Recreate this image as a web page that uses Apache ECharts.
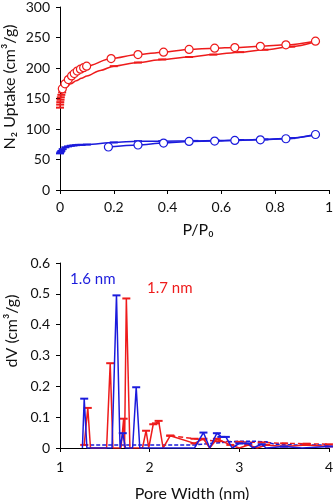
<!DOCTYPE html>
<html><head><meta charset="utf-8">
<script src="https://cdn.jsdelivr.net/npm/echarts@6/dist/echarts.min.js"></script>
<style>html,body{margin:0;padding:0;background:#fff}#c{width:336px;height:500px}</style>
</head><body><div id="c"></div>
<script>
// ---- Top chart: N2 isotherms ----
const xTicksTop = [0, 0.2, 0.4, 0.6, 0.8, 1];
const yTicksTop = [0, 50, 100, 150, 200, 250, 300];
const redAdsP = [0, 0.0005, 0.001, 0.002, 0.003, 0.005, 0.008, 0.012, 0.02, 0.04, 0.06, 0.08, 0.1, 0.15, 0.2, 0.29, 0.38, 0.48, 0.57, 0.67, 0.76, 0.86, 0.95];
const redAdsV = [135, 140, 144, 148, 152, 156, 160, 163, 167, 174, 179, 183, 187, 196, 203, 209, 214, 218, 222, 226, 230, 235, 243];
const redDesP = [0.0086, 0.0185, 0.031, 0.043, 0.053, 0.064, 0.076, 0.088, 0.099, 0.19, 0.29, 0.385, 0.48, 0.575, 0.65, 0.745, 0.84, 0.95];
const redDesV = [166, 174, 181, 187, 191, 195, 198, 200.5, 203, 215.5, 222, 226, 230.5, 232.5, 233.5, 235.5, 238, 244];
const blueAdsP = [0, 0.002, 0.005, 0.01, 0.02, 0.03, 0.04, 0.05, 0.06, 0.07, 0.08, 0.1, 0.2, 0.29, 0.38, 0.5, 0.58, 0.67, 0.76, 0.86, 0.95];
const blueAdsV = [60, 62, 64, 67, 70, 71.5, 72.5, 73, 73.5, 74, 74, 74.5, 78, 80, 80, 80.5, 81, 82, 83, 85, 90];
const blueDesP = [0.18, 0.29, 0.385, 0.48, 0.575, 0.65, 0.745, 0.84, 0.95];
const blueDesV = [70.5, 73.8, 77, 79.7, 80.2, 81.3, 82.3, 84, 91];

// ---- Bottom chart: pore size distribution ----
const xTicksBot = [1, 2, 3, 4];
const yTicksBot = [0, 0.1, 0.2, 0.3, 0.4, 0.5, 0.6];
const bluePsdW = [1.25, 1.27, 1.30, 1.58, 1.63, 1.67, 1.70, 1.73, 1.81, 1.85, 1.89, 2.5, 2.6, 2.67, 2.75, 2.8, 2.85, 2.92, 3.0, 3.1, 3.15, 3.25, 3.3, 3.5, 3.7, 4.0];
const bluePsdV = [0, 0.16, 0, 0, 0.495, 0, 0.048, 0, 0, 0.197, 0, 0, 0.05, 0, 0.048, 0.036, 0.036, 0, 0.015, 0.015, 0, 0.012, 0, 0.005, 0, 0.005];
const blueFitW = [1.27, 1.5, 2.0, 2.5, 2.9, 3.0, 3.15, 3.3, 3.4, 3.6, 3.8, 4.0];
const blueFitV = [0.01, 0.01, 0.01, 0.01, 0.02, 0.022, 0.022, 0.02, 0.012, 0.01, 0.01, 0.01];
const redPsdW = [1.27, 1.31, 1.34, 1.52, 1.56, 1.59, 1.68, 1.71, 1.72, 1.74, 1.78, 1.92, 1.96, 1.99, 2.04, 2.07, 2.1, 2.15, 2.23, 2.5, 2.6, 2.67, 2.75, 2.9, 3.0, 3.1, 3.2, 3.3, 3.5, 3.75, 4.0];
const redPsdV = [0.01, 0.13, 0, 0, 0.275, 0, 0, 0.095, 0, 0.485, 0, 0, 0.056, 0, 0.077, 0.08, 0.088, 0, 0.04, 0.015, 0.03, 0, 0.03, 0.01, 0, 0.01, 0, 0.01, 0.005, 0.01, 0.005];
const redFitW = [2.23, 2.5, 2.75, 3.0, 3.25, 3.5, 3.75, 4.0];
const redFitV = [0.04, 0.03, 0.022, 0.02, 0.018, 0.015, 0.014, 0.012];

const RED = '#ee1b1b', BLUE = '#1b1bdc';
const FONT = 'Lato';
const zip = (a, b) => a.map((x, i) => [x, b[i]]);
const dash = [8, 2];

const axisCommon = {
  axisLine: { show: true, lineStyle: { color: '#000', width: 1 } },
  axisTick: { show: true, inside: false, length: 4, lineStyle: { color: '#000' } },
  splitLine: { show: false },
  axisLabel: { color: '#111', fontFamily: FONT, fontSize: 14 }
};

const chart = echarts.init(document.getElementById('c'), null, { renderer: 'canvas' });
chart.setOption({
  animation: false,
  backgroundColor: '#fff',
  grid: [
    { left: 60, right: 6, top: 3, bottom: 310 },
    { left: 60, right: 4, top: 263, bottom: 52 }
  ],
  xAxis: [
    Object.assign({}, axisCommon, { gridIndex: 0, type: 'value', min: xTicksTop[0], max: xTicksTop[xTicksTop.length - 1], interval: 0.2,
      axisLabel: Object.assign({}, axisCommon.axisLabel, { margin: 10 }) }),
    Object.assign({}, axisCommon, { gridIndex: 1, type: 'value', min: xTicksBot[0], max: xTicksBot[xTicksBot.length - 1], interval: 1,
      axisLabel: Object.assign({}, axisCommon.axisLabel, { margin: 12 }) })
  ],
  yAxis: [
    Object.assign({}, axisCommon, { gridIndex: 0, type: 'value', min: yTicksTop[0], max: yTicksTop[yTicksTop.length - 1], interval: 50,
      axisLabel: Object.assign({}, axisCommon.axisLabel, { margin: 10 }) }),
    Object.assign({}, axisCommon, { gridIndex: 1, type: 'value', min: yTicksBot[0], max: yTicksBot[yTicksBot.length - 1], interval: 0.1,
      axisLabel: Object.assign({}, axisCommon.axisLabel, { margin: 10, formatter: v => String(+v.toFixed(1)) }) })
  ],
  graphic: [
    { type: 'text', x: 10, y: 87, rotation: Math.PI / 2, style: { text: 'N₂ Uptake (cm³/g)', fill: '#111', font: '16px ' + FONT, textAlign: 'center', textVerticalAlign: 'middle' } },
    { type: 'text', x: 198, y: 230, style: { text: 'P/P₀', fill: '#111', font: '16px ' + FONT, textAlign: 'center', textVerticalAlign: 'middle' } },
    { type: 'text', x: 12, y: 331, rotation: Math.PI / 2, style: { text: 'dV (cm³/g)', fill: '#111', font: '16px ' + FONT, textAlign: 'center', textVerticalAlign: 'middle' } },
    { type: 'text', x: 192, y: 494, style: { text: 'Pore Width (nm)', fill: '#111', font: '16px ' + FONT, textAlign: 'center', textVerticalAlign: 'middle' } },
    { type: 'text', x: 70, y: 279, style: { text: '1.6 nm', fill: BLUE, font: '15px ' + FONT, textAlign: 'left', textVerticalAlign: 'middle' } },
    { type: 'text', x: 147, y: 288, style: { text: '1.7 nm', fill: RED, font: '15px ' + FONT, textAlign: 'left', textVerticalAlign: 'middle' } }
  ],
  series: [
    { type: 'line', xAxisIndex: 0, yAxisIndex: 0, data: zip(redAdsP, redAdsV), smooth: 0.3, smoothMonotone: 'x',
      symbol: (v) => (v[0] < 0.012 || v[0] > 0.15) ? 'rect' : 'none', symbolSize: dash,
      lineStyle: { color: RED, width: 1.5 }, itemStyle: { color: RED }, z: 3 },
    { type: 'line', xAxisIndex: 0, yAxisIndex: 0, data: zip(redDesP, redDesV), smooth: 0.3, smoothMonotone: 'x',
      symbol: 'circle', symbolSize: 8, showAllSymbol: true,
      lineStyle: { color: RED, width: 1.5 }, itemStyle: { color: '#fff', borderColor: RED, borderWidth: 1.2 }, z: 4 },
    { type: 'line', xAxisIndex: 0, yAxisIndex: 0, data: zip(blueAdsP, blueAdsV), smooth: 0.3, smoothMonotone: 'x',
      symbol: 'rect', symbolSize: dash, showAllSymbol: true,
      lineStyle: { color: BLUE, width: 1.5 }, itemStyle: { color: BLUE }, z: 3 },
    { type: 'line', xAxisIndex: 0, yAxisIndex: 0, data: zip(blueDesP, blueDesV), smooth: 0.3, smoothMonotone: 'x',
      symbol: 'circle', symbolSize: 8, showAllSymbol: true,
      lineStyle: { color: BLUE, width: 1.5 }, itemStyle: { color: '#fff', borderColor: BLUE, borderWidth: 1.2 }, z: 4 },

    { type: 'line', xAxisIndex: 1, yAxisIndex: 1, data: zip(redFitW, redFitV),
      symbol: 'rect', symbolSize: dash, showAllSymbol: true,
      lineStyle: { color: RED, width: 1.5, type: [5, 3] }, itemStyle: { color: RED }, z: 2 },
    { type: 'line', xAxisIndex: 1, yAxisIndex: 1, data: zip(blueFitW, blueFitV),
      symbol: 'none',
      lineStyle: { color: BLUE, width: 1.5, type: [4, 2] }, itemStyle: { color: BLUE }, z: 2 },
    { type: 'line', xAxisIndex: 1, yAxisIndex: 1, data: zip(redPsdW, redPsdV),
      symbol: (v) => v[1] > 0.001 ? 'rect' : 'none', symbolSize: dash, showAllSymbol: true,
      lineStyle: { color: RED, width: 1.5 }, itemStyle: { color: RED }, z: 3 },
    { type: 'line', xAxisIndex: 1, yAxisIndex: 1, data: zip(bluePsdW, bluePsdV),
      symbol: (v) => v[1] > 0.001 ? 'rect' : 'none', symbolSize: dash, showAllSymbol: true,
      lineStyle: { color: BLUE, width: 1.5 }, itemStyle: { color: BLUE }, z: 4 }
  ]
});
</script></body></html>
